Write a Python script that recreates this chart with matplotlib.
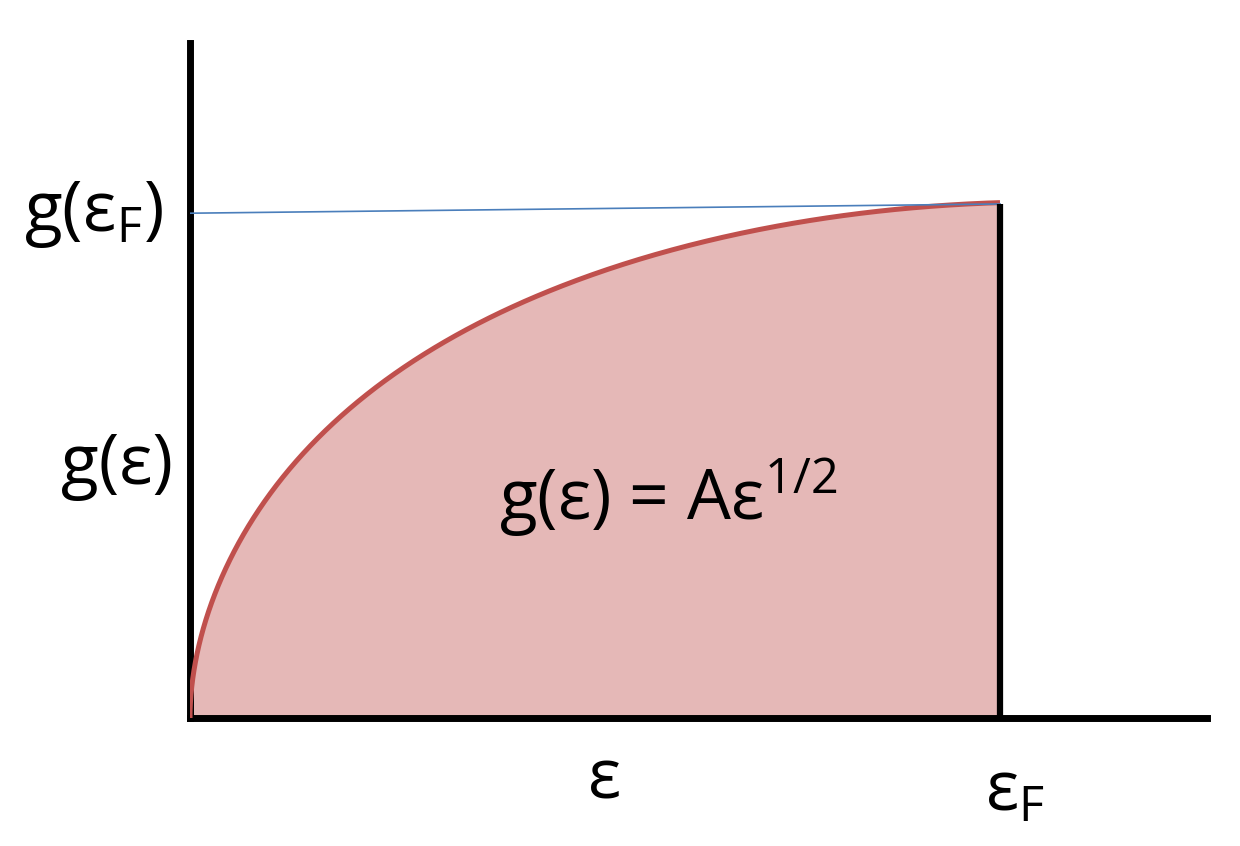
import matplotlib
matplotlib.use("Agg")
import matplotlib.pyplot as plt
import numpy as np

plt.rcParams['font.family'] = ['Open Sans', 'DejaVu Sans']
plt.rcParams['mathtext.fontset'] = 'custom'
plt.rcParams['mathtext.rm'] = 'Open Sans'
plt.rcParams['mathtext.it'] = 'Open Sans'
plt.rcParams['mathtext.bf'] = 'Open Sans'

# curve g(eps) (eps_F = 1, g(eps_F) = 1)
eps = [0.0, 0.0049, 0.0074, 0.0185, 0.0383, 0.0679, 0.100, 0.143, 0.177,
       0.219, 0.259, 0.300, 0.342, 0.383, 0.423, 0.465, 0.506, 0.564,
       0.646, 0.728, 0.811, 0.893, 1.0]
g = [0.0, 0.095, 0.119, 0.189, 0.269, 0.355, 0.433, 0.522, 0.581,
     0.639, 0.684, 0.721, 0.752, 0.786, 0.815, 0.844, 0.869, 0.899,
     0.936, 0.961, 0.981, 0.994, 1.004]
# blue reference line g(eps_F)
ref_eps = [0.0, 1.0]
ref_g = [0.984, 1.002]

# smooth drawing path: least-squares fit of the read points in sqrt(eps)
s = np.sqrt(np.asarray(eps))
basis = np.column_stack([s, s**2, s**3, s**4, s**5])
coef, *_ = np.linalg.lstsq(basis, np.asarray(g), rcond=None)
ss = np.linspace(0, 1, 600)
cx = ss**2
cy = np.column_stack([ss, ss**2, ss**3, ss**4, ss**5]) @ coef

fig = plt.figure(figsize=(12.4, 8.46), dpi=100)
ax = fig.add_axes([190/1240, 128/846, (1207-190)/1240, (718-43)/846])
ax.set_xlim(0, (1207-190)/810)
ax.set_ylim(0, (718-43)/513)
for sp in ['top', 'right']:
    ax.spines[sp].set_visible(False)
for sp in ['left', 'bottom']:
    ax.spines[sp].set_linewidth(5)
    ax.spines[sp].set_color('black')
ax.set_xticks([])
ax.set_yticks([])

ax.fill_between(cx, 0, cy, color='#E5B8B7', lw=0, zorder=1)
ax.plot(cx, cy, color='#C0504D', lw=3.6, solid_capstyle='butt', zorder=3)
ax.plot(ref_eps, ref_g, color='#4A7EBB', lw=1.2, zorder=4)
ax.plot([1.0, 1.0], [0, cy[-1] - 0.003], color='black', lw=4.5, zorder=5,
        solid_capstyle='butt')

fs = 50
fig.text(93/1240, 1 - 215/846, r'g(ε$_\mathregular{F}$)', fontsize=fs,
         ha='center', va='center')
fig.text(117/1240, 1 - 466/846, 'g(ε)', fontsize=fs, ha='center', va='center')
fig.text(668/1240, 1 - 498/846, r'g(ε) = Aε$^\mathregular{1/2}$', fontsize=fs,
         ha='center', va='center')
fig.text(605/1240, 1 - 780/846, 'ε', fontsize=fs, ha='center', va='center')
fig.text(1015/1240, 1 - 793/846, r'ε$_\mathregular{F}$', fontsize=fs,
         ha='center', va='center')

fig.savefig('out.png', dpi=100, facecolor='white')
